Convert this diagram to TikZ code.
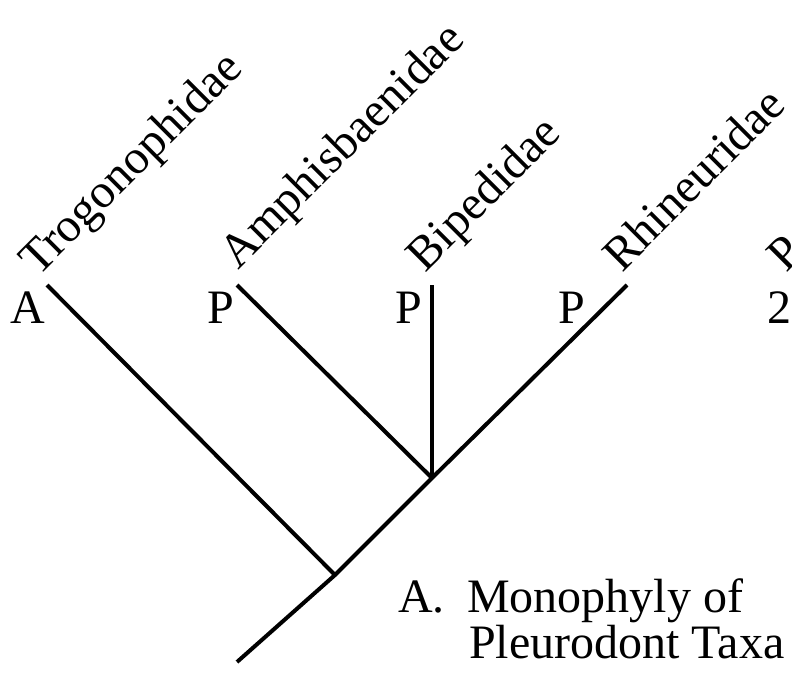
\documentclass[tikz,border=0pt]{standalone}
\usepackage{fontspec}
\setmainfont{Liberation Serif}
\begin{document}
\begin{tikzpicture}[x=1pt,y=-1pt,
  lab/.style={inner sep=0pt, outer sep=0pt, font=\fontsize{48}{46}\selectfont},
  taxon/.style={lab, rotate=45, anchor=base west},
  state/.style={lab, anchor=base west},
  branch/.style={line width=4pt, line cap=butt, line join=miter}]
\useasboundingbox (0,0) rectangle (792,677);
\clip (0,0) rectangle (792,677);
% coordinates
\coordinate (root) at (237,662);
\coordinate (j1) at (335,575);
\coordinate (j2) at (432,478);
\coordinate (t1) at (47,285);
\coordinate (t2) at (237,285);
\coordinate (t3) at (432,285);
\coordinate (t4) at (627,285);
% branches
\draw[branch] (root) -- (j1) -- (j2) -- (t4);
\draw[branch] (t1) -- (j1);
\draw[branch] (t2) -- (j2);
\draw[branch] (t3) -- (j2);
% taxon labels
\node[taxon] (n1) at (38,277) {Trogonophidae};
\node[taxon] (n2) at (238,270) {Amphisbaenidae};
\node[taxon] (n3) at (425,273) {Bipedidae};
\node[taxon] (n4) at (622,273) {Rhineuridae};
\node[taxon] (n5) at (786,273) {P};
% character states
\node[state] (s1) at (10,323) {A};
\node[state] (s2) at (207,323) {P};
\node[state] (s3) at (395,323) {P};
\node[state] (s4) at (558,323) {P};
\node[state] (s5) at (767,323) {2};
% caption
\node[state] (c1) at (398,612) {A.};
\node[state] (c2) at (467,612) {Monophyly of};
\node[state] (c3) at (469,658) {Pleurodont Taxa};
\end{tikzpicture}
\end{document}
